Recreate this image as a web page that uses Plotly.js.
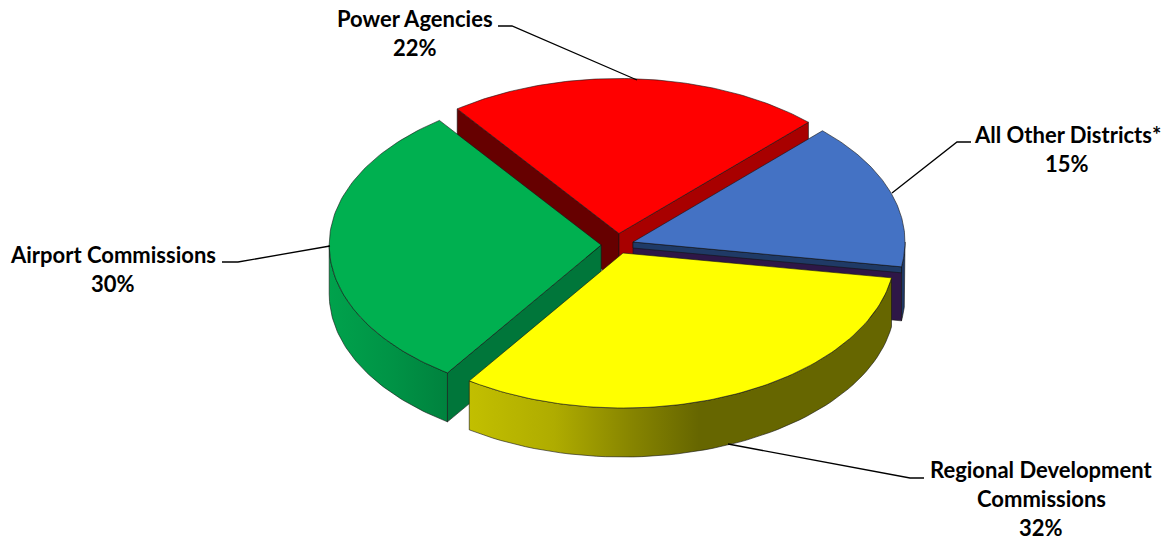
<!DOCTYPE html>
<html><head><meta charset="utf-8">
<script src="https://cdn.plot.ly/plotly-3.0.1.min.js"></script>
<style>html,body{margin:0;padding:0;background:#fff}#c{width:1165px;height:539px}</style>
</head><body><div id="c"></div>
<script>
// ---- data ----
const categories = ['Power Agencies', 'All Other Districts*', 'Regional Development<br>Commissions', 'Airport Commissions'];
const shares = [22.4, 15.3, 32.0, 30.3];

// ---- view geometry (3-D look of the pie) ----
const startAngle = 126.5, radiusX = 272, radiusY = 155;
const apexX = [619, 633, 623, 601.2], apexY = [233.5, 242, 253, 245];
const depths = [49, 54, 49, 49];
const topColors = ['#FF0000', '#4472C4', '#FFFF00', '#00B050'];
const EDGE = 'rgba(20,20,20,0.75)';

const traces = [];
function poly(xs, ys, fill, grad) {
  const t = {type:'scatter', mode:'lines', x:xs.concat(xs[0]), y:ys.concat(ys[0]), fill:'toself',
    fillcolor:fill, line:{color:EDGE, width:0.8}, hoverinfo:'skip', showlegend:false};
  if (grad) t.fillgradient = grad;
  traces.push(t);
}
function px(i, deg) { return apexX[i] + radiusX*Math.cos(deg*Math.PI/180); }
function py(i, deg) { return apexY[i] - radiusY*Math.sin(deg*Math.PI/180); }
function cutWall(i, deg, color, height) {
  const d = height===undefined ? depths[i] : height;
  poly([apexX[i], px(i,deg), px(i,deg), apexX[i]],
       [apexY[i], py(i,deg), py(i,deg)+d, apexY[i]+d], color);
}
function outerWall(i, a0, a1, color, grad) {
  const xs=[], ys=[], n=60;
  for (let k=0;k<=n;k++){const a=a0+(a1-a0)*k/n; xs.push(px(i,a)); ys.push(py(i,a));}
  for (let k=n;k>=0;k--){const a=a0+(a1-a0)*k/n; xs.push(px(i,a)); ys.push(py(i,a)+depths[i]);}
  poly(xs, ys, color, grad);
}
function topFace(i, a0, a1) {
  const xs=[apexX[i]], ys=[apexY[i]], n=90;
  for (let k=0;k<=n;k++){const a=a0+(a1-a0)*k/n; xs.push(px(i,a)); ys.push(py(i,a));}
  poly(xs, ys, topColors[i]);
}

const total = shares.reduce((a,b)=>a+b,0);
const edges = [startAngle];
shares.forEach(v => edges.push(edges[edges.length-1] - v/total*360));

// draw back to front: red, blue, green, yellow
// Power Agencies
cutWall(0, edges[0], '#660000');
cutWall(0, edges[1], '#A80000');
topFace(0, edges[0], edges[1]);
// All Other Districts
outerWall(1, edges[2], 0, '#1F3864');
cutWall(1, edges[2], '#2E1747');
cutWall(1, edges[2], '#1F3A66', 6);
topFace(1, edges[1], edges[2]);
// Airport Commissions
cutWall(3, edges[3], '#00763A');
outerWall(3, -180, edges[3], '#009A48', {type:'horizontal', start:329, stop:447,
  colorscale:[[0,'#00A24C'],[0.5,'#009446'],[1,'#00823E']]});
topFace(3, edges[3], edges[4]);
// Regional Development Commissions
outerWall(2, edges[3], edges[2], '#666600', {type:'horizontal', start:469, stop:895,
  colorscale:[[0,'#C2BF00'],[0.2,'#AFAC00'],[0.38,'#878500'],[0.54,'#666600'],[1,'#666600']]});
topFace(2, edges[2], edges[3]);

// ---- labels ----
const labelX = [415, 1067, 1041, 113];
const labelY = [18, 134, 469, 254];
const lineGap = 29;
const annotations = [];
categories.forEach((c,i) => {
  const lines = c.split('<br>').concat(Math.round(shares[i]) + '%');
  lines.forEach((t,k) => annotations.push({xref:'x', yref:'y', x:labelX[i], y:labelY[i]+k*lineGap, text:'<b>'+t+'</b>',
    showarrow:false, xanchor:'center', yanchor:'middle', font:{family:'Lato, Carlito, sans-serif', size:22, color:'#000'}}));
});

// ---- leader lines ----
const leaders = ['M637,80 L512,26 L498,26', 'M892,193 L957,142 L971,142', 'M728,444 L910,478 L924,478', 'M330,246 L238,262 L222,262'];
const shapes = leaders.map(p => ({type:'path', xref:'x', yref:'y', path:p, line:{color:'#000', width:1.3}}));

Plotly.newPlot('c', traces, {
  width:1165, height:539, margin:{l:0,r:0,t:0,b:0}, showlegend:false,
  paper_bgcolor:'#fff', plot_bgcolor:'#fff',
  xaxis:{range:[0,1165], visible:false, fixedrange:true},
  yaxis:{range:[539,0], visible:false, fixedrange:true},
  annotations, shapes
}, {displayModeBar:false, staticPlot:true});
</script></body></html>
